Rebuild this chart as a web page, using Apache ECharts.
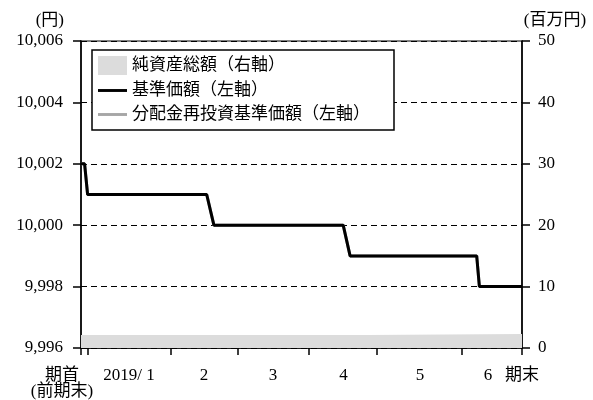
<!DOCTYPE html>
<html><head><meta charset="utf-8">
<script src="https://cdn.jsdelivr.net/npm/echarts@6/dist/echarts.min.js"></script>
<style>html,body{margin:0;padding:0;background:#fff}#c{width:593px;height:400px}</style>
</head><body><div id="c"></div>
<script>
// Axis positions (business-day index) and labels
const xTickPos = [0, 2.2, 29.9, 52.3, 76, 98.7, 127, 147];
const xLabelPos = [16, 41, 64, 87.5, 113, 135.7, 147];
const xLabelText = ['2019/ 1', '2', '3', '4', '5', '6', '期末'];
const startLabel = '期首\n(前期末)';
// 基準価額 (left axis, 円)
const navDays = [0, 1.2, 2.2, 41.9, 44.3, 87.4, 89.7, 131.9, 132.8, 147];
const navValues = [10002, 10002, 10001, 10001, 10000, 10000, 9999, 9999, 9998, 9998];
// 分配金再投資基準価額 (left axis, 円)
const reinvValues = [10002, 10002, 10001, 10001, 10000, 10000, 9999, 9999, 9998, 9998];
// 純資産総額 (right axis, 百万円)
const assetDays = [0, 95.5, 96, 147];
const assetValues = [2.1, 2.1, 2.3, 2.3];

const FONT = "'Liberation Serif', 'Noto Sans CJK JP', serif";
const LINE_ICON = 'path://M0,0H30V3H0Z';
const chart = echarts.init(document.getElementById('c'), null, {renderer: 'canvas'});
const zip = (xs, ys) => xs.map((x, i) => [x, ys[i]]);

chart.setOption({
  animation: false,
  textStyle: {fontFamily: FONT, color: '#000'},
  grid: {left: 81, right: 71, top: 41, bottom: 52, show: true, borderColor: '#000', borderWidth: 1.2, backgroundColor: 'transparent'},
  legend: {
    left: 92, top: 50, orient: 'vertical', symbolKeepAspect: true,
    padding: [6, 24, 7, 6], itemGap: 7, itemWidth: 29, itemHeight: 19,
    borderColor: '#000', borderWidth: 1.5, backgroundColor: '#fff',
    textStyle: {fontFamily: FONT, fontSize: 17, color: '#000'},
    data: [
      {name: '純資産総額（右軸）', icon: 'rect', itemStyle: {color: '#dcdcdc'}},
      {name: '基準価額（左軸）', icon: LINE_ICON, itemStyle: {color: '#000'}},
      {name: '分配金再投資基準価額（左軸）', icon: LINE_ICON, itemStyle: {color: '#a6a6a6'}}
    ]
  },
  graphic: [{
    type: 'text', x: 62, y: 368, silent: true,
    style: {text: startLabel, fontFamily: FONT, fontSize: 17, lineHeight: 16, fill: '#000', align: 'center', verticalAlign: 'top'}
  }],
  xAxis: {
    type: 'value', min: 0, max: 147,
    axisLine: {lineStyle: {color: '#000', width: 1.5}},
    axisTick: {show: true, length: 7, customValues: xTickPos, lineStyle: {color: '#000', width: 1.5}},
    splitLine: {show: false},
    axisLabel: {
      customValues: xLabelPos, showMinLabel: true, showMaxLabel: true, hideOverlap: false,
      margin: 20, fontSize: 17, lineHeight: 16, color: '#000', fontFamily: FONT,
      formatter: v => {
        const i = xLabelPos.indexOf(v);
        return i >= 0 ? xLabelText[i] : '';
      }
    }
  },
  yAxis: [
    {
      type: 'value', min: 9996, max: 10006, interval: 2,
      name: '(円)', nameLocation: 'end', nameGap: 12,
      nameTextStyle: {fontSize: 17, fontFamily: FONT, color: '#000', align: 'right', padding: [0, 17, 0, 0]},
      axisLine: {show: true, lineStyle: {color: '#000', width: 1.5}},
      axisTick: {show: true, length: 8, lineStyle: {color: '#000', width: 1.5}},
      axisLabel: {margin: 18, fontSize: 17, color: '#000', fontFamily: FONT, showMinLabel: true,
        formatter: v => v.toLocaleString('en-US')},
      splitLine: {show: true, lineStyle: {color: '#000', type: [6, 4], width: 1}}
    },
    {
      type: 'value', min: 0, max: 50, interval: 10, position: 'right',
      name: '(百万円)', nameLocation: 'end', nameGap: 12,
      nameTextStyle: {fontSize: 17, fontFamily: FONT, color: '#000', align: 'center', padding: [0, 0, 0, 66]},
      axisLine: {show: true, lineStyle: {color: '#000', width: 1.5}},
      axisTick: {show: true, length: 8, lineStyle: {color: '#000', width: 1.5}},
      axisLabel: {margin: 16, fontSize: 17, color: '#000', fontFamily: FONT},
      splitLine: {show: false}
    }
  ],
  series: [
    {
      name: '純資産総額（右軸）', type: 'line', yAxisIndex: 1, symbol: 'none',
      data: zip(assetDays, assetValues),
      lineStyle: {width: 0, color: '#dcdcdc'}, itemStyle: {color: '#dcdcdc'},
      areaStyle: {color: '#dcdcdc', opacity: 1}, z: 1
    },
    {
      name: '分配金再投資基準価額（左軸）', type: 'line', yAxisIndex: 0, symbol: 'none',
      data: zip(navDays, reinvValues),
      lineStyle: {width: 3, color: '#a6a6a6'}, itemStyle: {color: '#a6a6a6'}, z: 3
    },
    {
      name: '基準価額（左軸）', type: 'line', yAxisIndex: 0, symbol: 'none',
      data: zip(navDays, navValues),
      lineStyle: {width: 3, color: '#000'}, itemStyle: {color: '#000'}, z: 4
    }
  ]
});
</script></body></html>
